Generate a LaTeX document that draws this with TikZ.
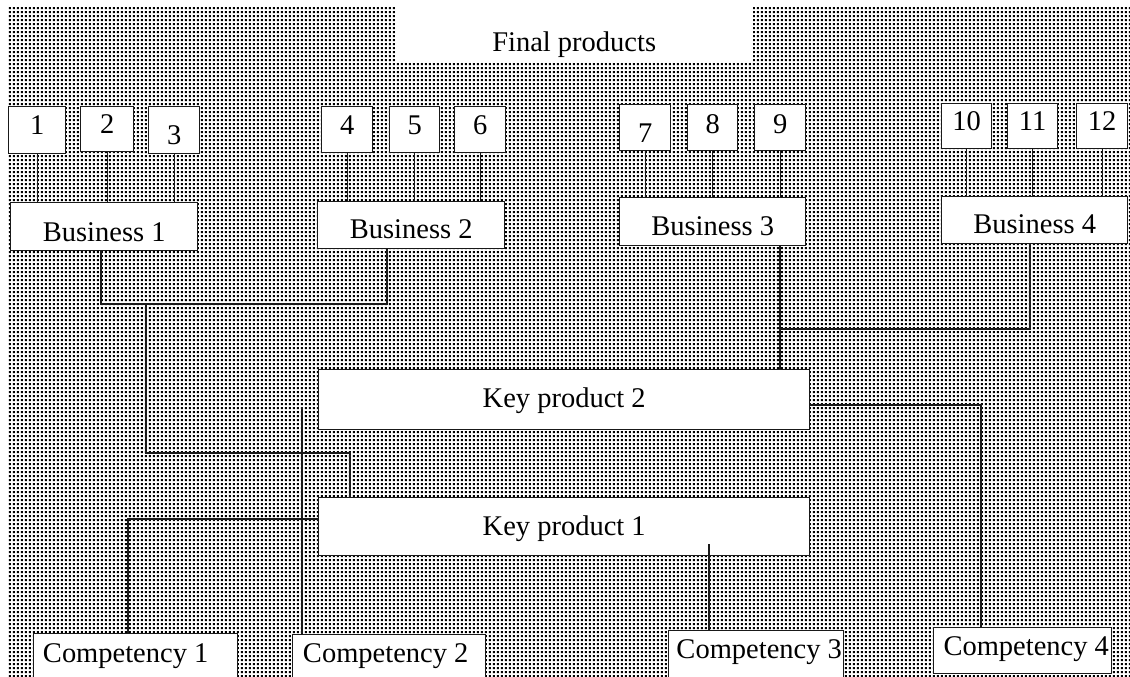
\documentclass[tikz,border=0pt]{standalone}
\usepackage{fontspec}
\setmainfont{Liberation Serif}
\usetikzlibrary{patterns.meta}
\tikzdeclarepattern{
  name=dotgrid,
  type=uncolored,
  bounding box={(0pt,0pt) and (4.3pt,4.3pt)},
  tile size={(4.3pt,4.3pt)},
  code={\pgfpathrectangle{\pgfpoint{1pt}{1pt}}{\pgfpoint{2.3pt}{2.3pt}}\pgfusepath{fill}}
}
\begin{document}
\begin{tikzpicture}[x=1pt,y=-1pt,
  font=\fontsize{28.5}{34}\selectfont,
  box/.style={draw=black!90, line width=1.4pt, fill=white, inner sep=0pt, anchor=north west},
  sz/.style 2 args={minimum width=#1pt, minimum height=#2pt},
  bo/.style={text height={18pt+#1pt}, text depth={18pt-#1pt}},
  link/.style={draw=black!90, line width=1.2pt}]
\clip (0,0) rectangle (1130,677);
\fill[white] (0,0) rectangle (1130,677);
\fill[pattern=dotgrid, pattern color=black] (7,8) rectangle (1130,677);
% final products
\node[fill=white, inner sep=0pt, anchor=north west, minimum width=358pt, minimum height=62pt,
      text height=50pt, text depth=10pt] (final) at (395,0) {Final products};
\node[box, sz={57}{47}, bo=4.5] (n1) at (8,106) {1};
\node[box, sz={53}{45}, bo=4.5] (n2) at (80,106) {2};
\node[box, sz={51}{47}, bo=14.5] (n3) at (148,106) {3};
\node[box, sz={51}{46}, bo=5] (n4) at (321,106) {4};
\node[box, sz={50}{46}, bo=5] (n5) at (389,106) {5};
\node[box, sz={51}{46}, bo=5] (n6) at (454,106) {6};
\node[box, sz={51}{46}, bo=15] (n7) at (619,104) {7};
\node[box, sz={50}{46}, bo=6] (n8) at (687,104) {8};
\node[box, sz={51}{46}, bo=6] (n9) at (754,104) {9};
\node[box, sz={50}{45}, bo=4.5] (n10) at (941,103) {10};
\node[box, sz={50}{45}, bo=4.5] (n11) at (1007,103) {11};
\node[box, sz={51}{45}, bo=4.5] (n12) at (1076,103) {12};
% businesses
\node[box, sz={187}{48}, bo=15] (bus1) at (10,202) {Business 1};
\node[box, sz={187}{47}, bo=13.5] (bus2) at (317,201) {Business 2};
\node[box, sz={186}{48}, bo=14] (bus3) at (619,197) {Business 3};
\node[box, sz={186}{47}, bo=13.5] (bus4) at (941,196) {Business 4};
% key products
\node[box, sz={491}{60}, bo=8] (kp2) at (318,369) {Key product 2};
\node[box, sz={491}{58}, bo=9] (kp1) at (318,497) {Key product 1};
% competencies
\node[box, sz={204}{67}, bo=-4.5] (comp1) at (33,633) {Competency 1\hspace*{20pt}};
\node[box, sz={193}{66}, bo=-5] (comp2) at (292,634) {Competency 2\hspace*{7pt}};
\node[box, sz={175}{70}, bo=-7] (comp3) at (668,630) {Competency 3\hspace*{-6pt}};
\node[box, sz={178}{46}, bo=5] (comp4) at (933,627) {Competency 4\hspace*{-7pt}};
% junction points
\coordinate (c1) at (101,304);
\coordinate (c2) at (387,304);
\coordinate (c3) at (146,304);
\coordinate (c4) at (146,453);
\coordinate (c5) at (350,453);
\coordinate (d1) at (780,329);
\coordinate (d2) at (1030,329);
\coordinate (e1) at (981,405);
\coordinate (f1) at (128,519);
\coordinate (g1) at (302,407);
\coordinate (h1) at (709,544);
% connectors: final products to businesses
\foreach \i in {1,2,3} {\draw[link] (n\i.south) -- (n\i.south |- bus1.north);}
\foreach \i in {4,5,6} {\draw[link] (n\i.south) -- (n\i.south |- bus2.north);}
\foreach \i in {7,8,9} {\draw[link] (n\i.south) -- (n\i.south |- bus3.north);}
\foreach \i in {10,11,12} {\draw[link] (n\i.south) -- (n\i.south |- bus4.north);}
% businesses to key products
\draw[link] (bus1.south -| c1) -- (c1) -- (c2) -- (bus2.south -| c2);
\draw[link] (c3) -- (c4) -- (c5) -- (kp1.north -| c5);
\draw[link] (bus3.south -| d1) -- (kp2.north -| d1);
\draw[link] (bus4.south -| d2) -- (d2) -- (d1);
% key products to competencies
\draw[link] (kp2.east |- e1) -- (e1) -- (comp4.north -| e1);
\draw[link] (kp1.west |- f1) -- (f1) -- (comp1.north -| f1);
\draw[link] (g1) -- (comp2.north -| g1);
\draw[link] (h1) -- (comp3.north -| h1);
\end{tikzpicture}
\end{document}
